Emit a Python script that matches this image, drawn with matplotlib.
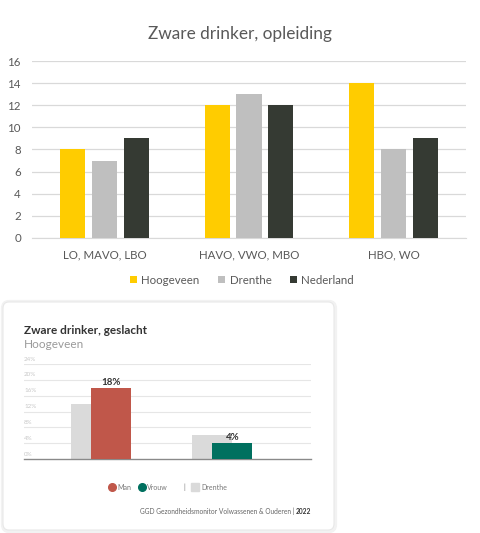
import matplotlib
matplotlib.use("Agg")
import matplotlib.pyplot as plt
import numpy as np
from matplotlib.patches import FancyBboxPatch
from matplotlib.lines import Line2D

# --- data: opleiding ---
opl_categories = ["LO, MAVO, LBO", "HAVO, VWO, MBO", "HBO, WO"]
opl_series = ["Hoogeveen", "Drenthe", "Nederland"]
hoogeveen = [8, 12, 14]
drenthe = [7, 13, 8]
nederland = [9, 12, 9]
opl_yticks = [0, 2, 4, 6, 8, 10, 12, 14, 16]

# --- data: geslacht ---
gesl_categories = ["Man", "Vrouw"]
gesl_hoogeveen = [18, 4]
gesl_drenthe = [14, 6]
gesl_yticks = [0, 4, 8, 12, 16, 20, 24]

W, H = 481, 533
fig = plt.figure(figsize=(W / 100, H / 100), dpi=100)
fig.patch.set_facecolor("white")

def fx(px):
    return px / W

def fy(py):
    return 1 - py / H

# ---------------- top chart ----------------
plt.rcParams["font.family"] = ["Lato", "DejaVu Sans"]
ax1 = fig.add_axes([fx(32), fy(238), fx(466) - fx(32), fy(61) - fy(238)])
colors1 = ["#FFCC00", "#BFBFBF", "#353A33"]
x = np.arange(len(opl_categories))
bw = 0.173
step = 0.221
for i, (vals, c) in enumerate(zip([hoogeveen, drenthe, nederland], colors1)):
    ax1.bar(x + (i - 1) * step, vals, width=bw, color=c, zorder=3, label=opl_series[i])
ax1.set_xlim(-0.5, 2.5)
ax1.set_ylim(0, 16)
ax1.set_yticks(opl_yticks)
ax1.grid(axis="y", color="#D9D9D9", lw=0.9, zorder=0)
for s in ax1.spines.values():
    s.set_visible(False)
ax1.spines["bottom"].set_visible(True)
ax1.spines["bottom"].set_color("#D9D9D9")
ax1.tick_params(length=0, labelsize=8.3, colors="#595959")
ax1.tick_params(axis="y", pad=8)
ax1.tick_params(axis="x", pad=8)
ax1.set_xticks(x)
ax1.set_xticklabels(opl_categories)
fig.text(fx(240), fy(34.5), "Zware drinker, opleiding", ha="center", va="center",
         fontsize=12.4, color="#595959")
ax1.legend(loc="center", bbox_to_anchor=(fx(242), fy(280)), bbox_transform=fig.transFigure,
           ncol=3, frameon=False, fontsize=8.3, labelcolor="#595959",
           handlelength=0.6, handleheight=0.6, handletextpad=0.4, columnspacing=1.6)

# ---------------- bottom card ----------------
shadow = FancyBboxPatch((fx(3), fy(531)), fx(335) - fx(3), fy(302) - fy(531),
                        boxstyle="round,pad=0,rounding_size=0.012",
                        transform=fig.transFigure, facecolor="none",
                        edgecolor="#F2F2F2", lw=3, zorder=-6)
fig.add_artist(shadow)
card = FancyBboxPatch((fx(3), fy(530)), fx(334) - fx(3), fy(302) - fy(530),
                      boxstyle="round,pad=0,rounding_size=0.012",
                      transform=fig.transFigure, facecolor="white",
                      edgecolor="#E8E8E8", lw=0.8, zorder=-5)
fig.add_artist(card)

ax2 = fig.add_axes([fx(24), fy(459), fx(311) - fx(24), fy(364) - fy(459)])
ax2.set_zorder(2)
xg = np.arange(len(gesl_categories))
w2 = 0.33
ax2.bar(xg - w2 / 2, gesl_drenthe, width=w2, color="#DADADA", zorder=2)
ax2.bar(xg, gesl_hoogeveen, width=w2, color=["#C0574A", "#00705F"], zorder=3)
for xi, v in zip(xg, gesl_hoogeveen):
    ax2.text(xi, v + 0.3, f"{v}%", ha="center", va="bottom", fontsize=7,
             fontweight="bold", color="#333333", zorder=4)
ax2.set_xlim(-0.72, 1.65)
ax2.set_ylim(0, 24)
for t in gesl_yticks:
    if t > 0:
        ax2.axhline(t, color="#E6E6E6", lw=0.8, zorder=0)
    ax2.text(0.0, t + 0.6, f"{t}%", transform=ax2.get_yaxis_transform(),
             fontsize=4.5, color="#C8C8C8", ha="left", va="bottom")
for s in ax2.spines.values():
    s.set_visible(False)
ax2.spines["bottom"].set_visible(True)
ax2.spines["bottom"].set_color("#8A8A8A")
ax2.spines["bottom"].set_linewidth(1.0)
ax2.set_xticks([])
ax2.set_yticks([])
ax2.patch.set_alpha(0)

fig.text(fx(24), fy(331), "Zware drinker, geslacht", ha="left", va="center",
         fontsize=8.5, fontweight="bold", color="#333333")
fig.text(fx(24), fy(344), "Hoogeveen", ha="left", va="center",
         fontsize=8.5, color="#9A9A9A")

handles = [
    Line2D([], [], marker="o", ls="none", color="#C0574A", markersize=5.5),
    Line2D([], [], marker="o", ls="none", color="#00705F", markersize=5.5),
    Line2D([], [], ls="none"),
    Line2D([], [], marker="s", ls="none", color="#DADADA", markersize=5.5),
]
ax2.legend(handles, ["Man", "Vrouw", "|", "Drenthe"], loc="center",
           bbox_to_anchor=(fx(168), fy(487)), bbox_transform=fig.transFigure,
           ncol=4, frameon=False, fontsize=5, labelcolor="#777777",
           handlelength=0.9, handletextpad=0.35, columnspacing=1.0)

r = fig.canvas.get_renderer()
yr = fig.text(fx(311), fy(511), "2022", ha="right", va="center", fontsize=4.8,
              fontweight="bold", color="#333333")
bb = yr.get_window_extent(renderer=r)
fig.text(bb.x0 / W - fx(1.5), fy(511), "GGD Gezondheidsmonitor Volwassenen & Ouderen |",
         ha="right", va="center", fontsize=4.8, color="#666666")

fig.savefig("out.png", dpi=100)
